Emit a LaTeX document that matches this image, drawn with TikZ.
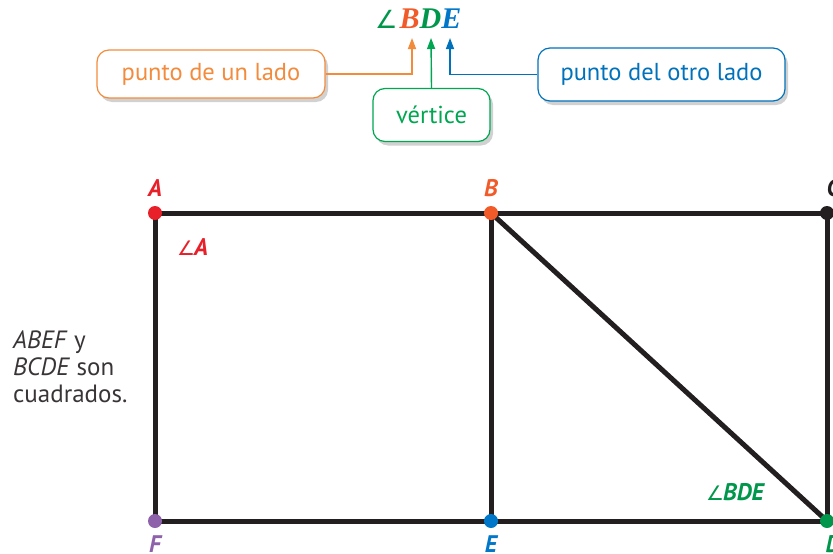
\documentclass[tikz,border=0pt]{standalone}
\usepackage{fontspec}
\setmainfont{PT Sans}
\newfontfamily\serifbi{Liberation Serif}
\newfontfamily\symf{DejaVu Sans}
\usetikzlibrary{shadows,arrows.meta}
\definecolor{ptA}{HTML}{E8202A}
\definecolor{ptB}{HTML}{F15A29}
\definecolor{ptD}{HTML}{00964B}
\definecolor{ptE}{HTML}{0077C8}
\definecolor{ptF}{HTML}{8E62AA}
\definecolor{ink}{HTML}{231F20}
\definecolor{boxO}{HTML}{F38B3C}
\definecolor{boxG}{HTML}{00A651}
\definecolor{boxB}{HTML}{0072BC}
\newcommand{\angsym}{{\symf\fontsize{20}{22}\selectfont ∠}}
\tikzset{
  callout/.style={draw, line width=1.2pt, rounded corners=12pt, fill=white, inner sep=0pt,
    font=\fontsize{24.5}{27}\selectfont,
    drop shadow={shadow xshift=3pt, shadow yshift=-4pt, fill=black, opacity=0.18}},
  lead/.style={line width=1.4pt, -{Triangle[length=11pt,width=8pt]}},
  seg/.style={line width=5pt, ink},
  pt/.style={circle, fill=#1, inner sep=0pt, minimum size=14pt},
  plabel/.style={font=\fontsize{24}{26}\selectfont\bfseries\itshape, text=#1},
}
\begin{document}
\begin{tikzpicture}[x=1pt,y=-1pt]
\useasboundingbox (0,0) rectangle (833,554);
% title
\node[anchor=base west, inner sep=0pt] (title) at (375,28)
  {\textcolor{ptD}{{\symf\fontsize{25}{27}\selectfont ∠}}\kern2pt{\fontsize{30}{32}\selectfont\serifbi\bfseries\itshape\textcolor{ptB}{B}\textcolor{ptD}{D}\textcolor{ptE}{E}}};
\coordinate (tipB) at (412,38);
\coordinate (tipD) at (431,38);
\coordinate (tipE) at (450,38);
% callouts
\node[callout, draw=boxO, text=boxO, minimum width=228pt, minimum height=48pt] (lado1) at (211,74) {punto de un lado};
\node[callout, draw=boxG, text=boxG, minimum width=117pt, minimum height=53pt] (vert) at (431.5,115) {vértice};
\node[callout, draw=boxB, text=boxB, minimum width=247pt, minimum height=53pt] (lado2) at (661.5,74.5) {punto del otro lado};
\draw[lead, boxO] (lado1.east) -| (tipB);
\draw[lead, boxG] (vert.north) -- (tipD);
\draw[lead, boxB] (lado2.west) -| (tipE);
% points
\coordinate (A) at (155,213);
\coordinate (B) at (491,213);
\coordinate (C) at (827,213);
\coordinate (D) at (827,521);
\coordinate (E) at (491,521);
\coordinate (F) at (155,521);
\draw[seg, line cap=round, line join=round] (A) -- (C) -- (D) -- (F) -- cycle;
\draw[seg] (B) -- (E);
\draw[seg] (B) -- (D);
\node[pt=ptA] (dA) at (A) {};
\node[pt=ptB] (dB) at (B) {};
\node[pt=ink] (dC) at (C) {};
\node[pt=ptD] (dD) at (D) {};
\node[pt=ptE] (dE) at (E) {};
\node[pt=ptF] (dF) at (F) {};
\node[plabel=ptA, anchor=base] (lA) at (155,196) {A};
\node[plabel=ptB, anchor=base] (lB) at (491,196) {B};
\node[plabel=ink, anchor=base] (lC) at (833,196) {C};
\node[plabel=ptF, anchor=base] (lF) at (155,552) {F};
\node[plabel=ptE, anchor=base] (lE) at (491,552) {E};
\node[plabel=ptD, anchor=base] (lD) at (833,552) {D};
% angle labels
\node[anchor=base west, inner sep=0pt, text=ptA, font=\fontsize{24}{26}\selectfont] (angA) at (177,255) {\angsym\kern-1pt\textbf{\textit{A}}};
\node[anchor=base west, inner sep=0pt, text=ptD, font=\fontsize{24}{26}\selectfont] (angBDE) at (706,500) {\angsym\kern-1pt\textbf{\textit{BDE}}};
% note
\node[anchor=base west, inner sep=0pt, align=left, text=ink!90, font=\fontsize{25}{27}\selectfont] (note) at (13,402)
  {\textit{ABEF} y\\\textit{BCDE} son\\cuadrados.};
\end{tikzpicture}
\end{document}
